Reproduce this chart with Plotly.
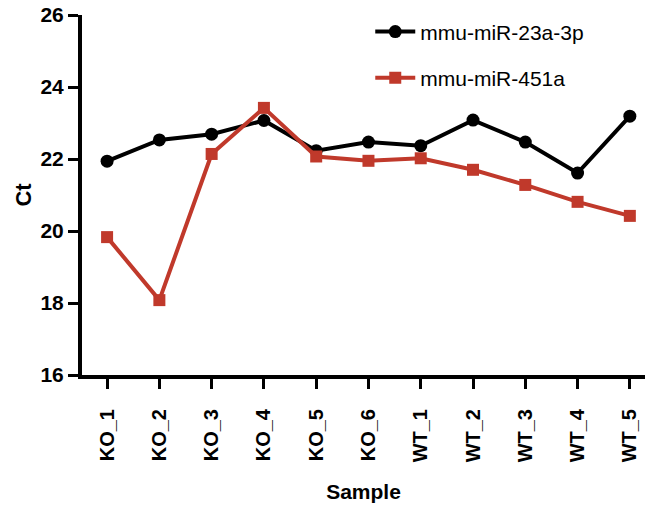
import plotly.graph_objects as go

samples = ["KO_1", "KO_2", "KO_3", "KO_4", "KO_5", "KO_6", "WT_1", "WT_2", "WT_3", "WT_4", "WT_5"]
mir23a = [21.94, 22.53, 22.69, 23.07, 22.23, 22.47, 22.37, 23.08, 22.47, 21.61, 23.19]
mir451a = [19.83, 18.08, 22.14, 23.42, 22.07, 21.95, 22.02, 21.70, 21.28, 20.81, 20.42]

FONT = "Liberation Sans, Arial, Helvetica, sans-serif"
RED = "#c0392b"

fig = go.Figure()
fig.add_trace(go.Scatter(
    x=samples, y=mir23a, mode="lines+markers", name="mmu-miR-23a-3p",
    line=dict(color="black", width=4),
    marker=dict(symbol="circle", size=13, color="black"),
    legend="legend", showlegend=True,
))
fig.add_trace(go.Scatter(
    x=samples, y=mir451a, mode="lines+markers", name="mmu-miR-451a",
    line=dict(color=RED, width=4),
    marker=dict(symbol="square", size=12, color=RED),
    legend="legend2", showlegend=True,
))

legend_common = dict(
    font=dict(family=FONT, size=21, color="black"),
    bgcolor="rgba(0,0,0,0)", xanchor="left", yanchor="middle",
    itemwidth=40,
)

fig.update_layout(
    width=645, height=507,
    showlegend=True,
    margin=dict(l=82, r=0, t=15, b=132),
    paper_bgcolor="white", plot_bgcolor="white",
    font=dict(family=FONT, color="black"),
    legend=dict(x=0.512, y=0.953, **legend_common),
    legend2=dict(x=0.512, y=0.825, **legend_common),
    xaxis=dict(
        type="category", range=[-0.48, 10.29],
        showline=True, linecolor="black", linewidth=4,
        ticks="outside", ticklen=10, tickwidth=3, tickcolor="black",
        tickangle=-90, ticklabelstandoff=12,
        tickfont=dict(family=FONT, size=20, color="black", weight="bold"),
        showgrid=False, zeroline=False,
        title=dict(text="Sample", font=dict(family=FONT, size=21, color="black", weight="bold"), standoff=24),
    ),
    yaxis=dict(
        range=[16, 26], dtick=2,
        showline=True, linecolor="black", linewidth=4,
        ticks="outside", ticklen=10, tickwidth=3, tickcolor="black",
        tickfont=dict(family=FONT, size=21, color="black", weight="bold"),
        showgrid=False, zeroline=False,
        title=dict(text="Ct", font=dict(family=FONT, size=22, color="black", weight="bold"), standoff=4),
    ),
)

fig.write_html("out.html")
